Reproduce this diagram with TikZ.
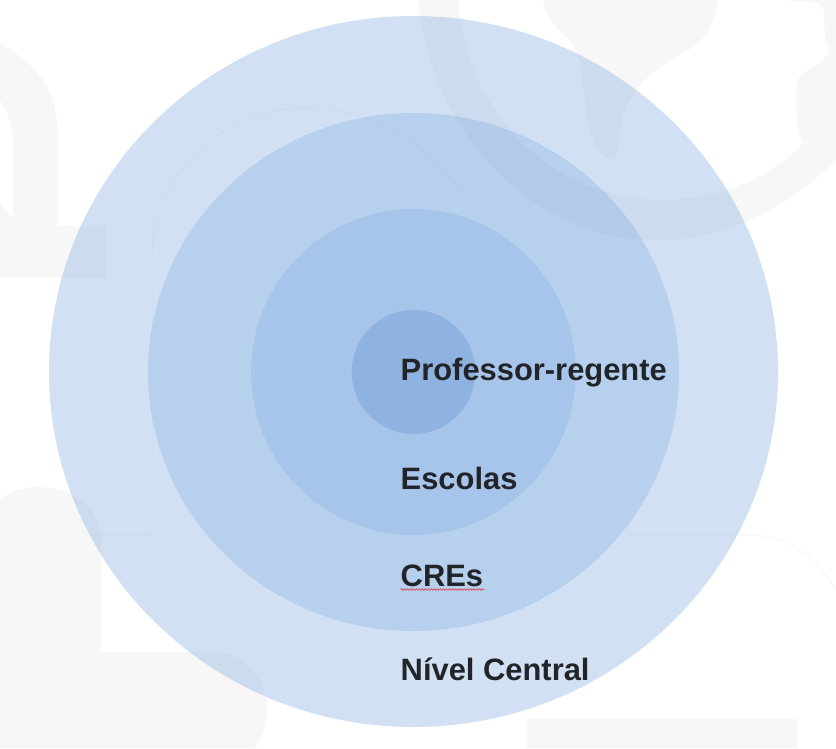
\documentclass[tikz,border=0pt]{standalone}
\usepackage{fontspec}
\setmainfont{Liberation Sans}
\usetikzlibrary{decorations.pathmorphing}
\definecolor{ringA}{HTML}{D2E0F3}
\definecolor{ringB}{HTML}{B7D0EE}
\definecolor{ringC}{HTML}{A7C4EA}
\definecolor{ringD}{HTML}{8FB3E1}
\definecolor{wmgray}{HTML}{F7F7F7}
\definecolor{inkc}{HTML}{212529}
\definecolor{squiggle}{HTML}{E0303A}
\newcommand{\wmshapes}{%
  (0,43) .. controls (35,65) and (58,85) .. (58,140) -- (58,226) -- (106,226) -- (106,277) -- (0,277) -- (0,203) -- (13,219) -- (13,140) .. controls (13,125) and (7,110) .. (0,100) -- cycle
  (418,0) .. controls (430,130) and (530,240) .. (656,240) .. controls (730,240) and (790,205) .. (836,160) -- (836,0) -- (787,0) .. controls (800,2) and (812,1) .. (820,3) .. controls (826,8) and (824,25) .. (825,35) .. controls (826,42) and (830,46) .. (829,52) .. controls (826,62) and (805,70) .. (800,76) .. controls (795,84) and (796,100) .. (797,120) .. controls (798,130) and (800,138) .. (803,143) .. controls (770,180) and (715,200) .. (663,200) .. controls (550,200) and (465,110) .. (458,0) -- cycle
  (543,0) .. controls (545,20) and (560,30) .. (569,40) .. controls (582,55) and (583,90) .. (586,110) .. controls (590,135) and (596,158) .. (611,158) .. controls (622,155) and (618,130) .. (623,115) .. controls (630,95) and (645,78) .. (656,70) .. controls (675,55) and (695,50) .. (705,35) .. controls (712,25) and (716,12) .. (719,0) -- cycle
  (0,500) .. controls (10,491) and (25,487) .. (38,487) .. controls (75,487) and (101,510) .. (101,540) -- (101,652) -- (210,652) .. controls (245,652) and (267,680) .. (267,710) .. controls (267,725) and (262,738) .. (255,748) -- (0,748) -- cycle
  (527,719) rectangle (798,748)}
\newcommand{\wmlines}{%
  (0,535) -- (152,535) -- (152,260) .. controls (152,170) and (225,108) .. (305,108) .. controls (370,108) and (430,140) .. (470,205)
  (620,535) -- (750,535) .. controls (785,535) and (815,555) .. (836,590)}
\tikzset{
  lab/.style={anchor=base west,font=\fontsize{30.9}{33}\selectfont\bfseries,text=inkc,inner sep=0pt}
}
\begin{document}
\begin{tikzpicture}[x=1pt,y=-1pt]
\useasboundingbox (0,0) rectangle (836,748);
\fill[white] (0,0) rectangle (836,748);
% faint watermark on the page
\fill[wmgray] \wmshapes;
\draw[wmgray,line width=1pt] \wmlines;
% concentric levels
\fill[ringA] (413.5,371.5) ellipse [x radius=364.5,y radius=355.5];
\fill[ringB] (413.5,372) ellipse [x radius=265.5,y radius=259];
\fill[ringC] (413.3,372) ellipse [x radius=162.3,y radius=163];
\fill[ringD] (413.5,372) ellipse [x radius=61.7,y radius=62];
% watermark showing faintly through the levels
\begin{scope}
\clip (413.5,371.5) ellipse [x radius=364.5,y radius=355.5];
\fill[black,fill opacity=0.02] \wmshapes;
\draw[black,draw opacity=0.02,line width=1pt] \wmlines;
\end{scope}
% labels
\node[lab] (prof) at (400.5,380) {Professor-regente};
\node[lab] (esc) at (400.5,489) {Escolas};
\node[lab] (cre) at (400.5,586) {CREs};
\node[lab] (niv) at (400.5,680) {Nível Central};
\draw[squiggle,line width=0.6pt,decorate,decoration={snake,amplitude=0.8pt,segment length=3pt}] (400.5,589.5) -- (484,589.5);
\end{tikzpicture}
\end{document}
